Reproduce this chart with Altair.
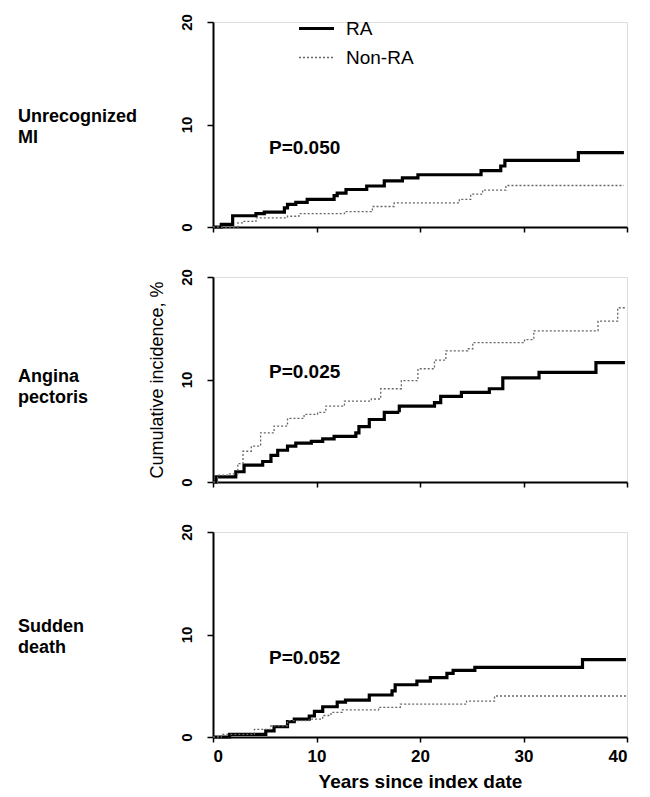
import altair as alt
import pandas as pd

# ---- data (years since index date, cumulative incidence %) ----
groups = ["RA", "Non-RA"]
panel_labels = ["Unrecognized\nMI", "Angina\npectoris", "Sudden\ndeath"]
p_values = ["P=0.050", "P=0.025", "P=0.052"]
x_ticks = [0, 10, 20, 30, 40]
y_ticks = [0, 10, 20]

ra1_t = [0, 0.8, 1.9, 4.15, 4.96, 6.9, 7.2, 8.0, 9.1, 11.7, 12.0, 12.85, 14.85, 16.55, 18.3, 19.8, 25.9, 27.8, 28.2, 35.3, 39.7]
ra1_v = [0, 0.26, 1.1, 1.3, 1.45, 1.86, 2.2, 2.4, 2.7, 3.07, 3.3, 3.66, 4.0, 4.5, 4.8, 5.1, 5.5, 5.95, 6.5, 7.25, 7.25]
non1_t = [0, 2.4, 3.0, 4.15, 7.2, 8.3, 12.7, 15.4, 17.5, 23.8, 24.9, 26.05, 28.3, 39.7]
non1_v = [0, 0.4, 0.55, 0.9, 1.05, 1.3, 1.5, 2.0, 2.35, 2.7, 3.2, 3.6, 4.05, 4.05]

ra2_t = [0, 0.3, 2.2, 3.0, 4.8, 5.6, 6.25, 7.2, 8.0, 9.5, 10.6, 11.7, 13.8, 14.1, 15.1, 16.55, 18.0, 21.4, 22.0, 24.0, 26.7, 28.0, 31.5, 37.0, 39.8]
ra2_v = [0, 0.5, 1.0, 1.65, 2.0, 2.6, 3.1, 3.5, 3.8, 3.96, 4.2, 4.45, 4.8, 5.4, 6.1, 6.8, 7.4, 7.75, 8.35, 8.75, 9.1, 10.15, 10.7, 11.65, 11.65]
non2_t = [0, 0.45, 1.6, 2.4, 2.9, 3.7, 4.6, 5.9, 7.2, 8.8, 10.1, 10.9, 12.7, 15.3, 16.2, 18.2, 19.8, 21.4, 22.5, 24.6, 25.1, 30.1, 31.0, 37.2, 39.1, 39.8]
non2_v = [0, 0.66, 0.8, 1.8, 3.0, 3.5, 4.8, 5.45, 6.2, 6.6, 6.8, 7.4, 7.9, 8.1, 9.1, 9.9, 11.05, 11.9, 12.8, 13.0, 13.6, 13.9, 14.75, 15.7, 17.0, 17.0]

ra3_t = [0, 1.6, 5.1, 5.9, 7.2, 7.85, 9.3, 9.8, 10.6, 12.0, 12.8, 15.1, 17.3, 17.6, 19.7, 21.0, 22.6, 23.2, 25.3, 35.7, 39.9]
ra3_v = [0, 0.26, 0.6, 1.0, 1.5, 1.75, 2.05, 2.5, 2.95, 3.4, 3.6, 4.1, 4.5, 5.1, 5.45, 5.8, 6.2, 6.5, 6.8, 7.55, 7.55]
non3_t = [0, 0.8, 4.0, 5.6, 7.2, 9.3, 10.6, 11.4, 12.5, 16.0, 18.1, 24.5, 27.2, 39.9]
non3_v = [0, 0.26, 0.75, 1.1, 1.6, 1.75, 2.1, 2.4, 2.65, 2.9, 3.2, 3.5, 4.0, 4.0]

series = [
    ((ra1_t, ra1_v), (non1_t, non1_v)),
    ((ra2_t, ra2_v), (non2_t, non2_v)),
    ((ra3_t, ra3_v), (non3_t, non3_v)),
]

FONT = "Liberation Sans"
W, H = 414, 205


def panel_df(ra, non):
    rows = []
    for g, (ts, vs) in zip(groups, (ra, non)):
        for i, (t, v) in enumerate(zip(ts, vs)):
            rows.append({"t": t, "v": v, "group": g, "order": i})
    return pd.DataFrame(rows)


def make_panel(idx):
    ra, non = series[idx]
    df = panel_df(ra, non)
    bottom = idx == 2
    middle = idx == 1
    top = idx == 0

    legend = (
        alt.Legend(
            orient="none", legendX=84, legendY=-13, title=None,
            symbolType="stroke", symbolSize=1225, labelFont=FONT,
            labelFontSize=19, labelFontWeight="normal", labelColor="black",
            labelOffset=10, rowPadding=0, symbolStrokeWidth=3,
        )
        if top else None
    )

    x_axis = alt.Axis(
        values=x_ticks, labels=bottom, title="Years since index date" if bottom else None,
        grid=False, domainColor="black", domainWidth=2, tickColor="black", tickWidth=1.5,
        tickSize=5, labelFont=FONT, labelFontSize=17, labelFontWeight="bold",
        labelColor="black", labelPadding=6, titleFont=FONT, titleFontSize=19,
        titleFontWeight="bold", titleColor="black", titlePadding=8,
    )
    y_axis = alt.Axis(
        values=y_ticks, title="Cumulative incidence, %" if middle else None,
        grid=False, domainColor="black", domainWidth=2, tickColor="black", tickWidth=1.5,
        tickSize=6, labelAngle=270, labelAlign="center", labelBaseline="bottom",
        labelFont=FONT, labelFontSize=15, labelFontWeight="bold", labelColor="black",
        labelPadding=13, titleFont=FONT, titleFontSize=18, titleFontWeight="normal",
        titleColor="black", titlePadding=13,
    )

    lines = alt.Chart(df).mark_line(interpolate="step-after", strokeCap="butt").encode(
        x=alt.X("t:Q", scale=alt.Scale(domain=[0, 40], nice=False), axis=x_axis),
        y=alt.Y("v:Q", scale=alt.Scale(domain=[0, 20], nice=False), axis=y_axis),
        color=alt.Color("group:N", scale=alt.Scale(domain=groups, range=["#000000", "#666666"]), legend=legend),
        strokeDash=alt.StrokeDash("group:N", scale=alt.Scale(domain=groups, range=[[1, 0], [2, 2]]), legend=legend),
        strokeWidth=alt.StrokeWidth("group:N", scale=alt.Scale(domain=groups, range=[3.2, 1.3]), legend=legend),
        order="order:Q",
        detail="group:N",
    )

    label = alt.Chart(pd.DataFrame({"lab": [panel_labels[idx]]})).mark_text(
        align="left", baseline="middle", font=FONT, fontSize=18, fontWeight="bold",
        color="black", lineBreak="\n", lineHeight=21,
    ).encode(text="lab:N", x=alt.value(-195), y=alt.value(95 if idx != 1 else 100))

    pval = alt.Chart(pd.DataFrame({"p": [p_values[idx]]})).mark_text(
        align="left", baseline="middle", font=FONT, fontSize=19, fontWeight="bold", color="black",
    ).encode(text="p:N", x=alt.value(56), y=alt.value(126 if idx != 1 else 95))

    return alt.layer(lines, label, pval).properties(width=W, height=H)


chart = alt.vconcat(make_panel(0), make_panel(1), make_panel(2), spacing=34).resolve_scale(
    color="independent", strokeDash="independent", strokeWidth="independent"
).properties(
    padding={"left": 9, "top": 0, "right": 5, "bottom": 4}
).configure_view(stroke=None).configure(background="white")

chart.save("out.html", embed_options={"renderer": "svg", "actions": False})
